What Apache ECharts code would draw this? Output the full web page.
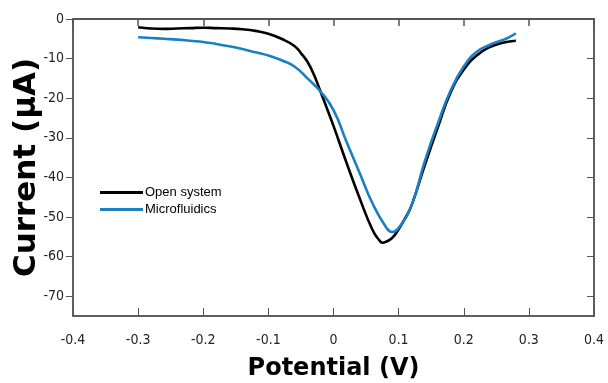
<!DOCTYPE html>
<html>
<head>
<meta charset="utf-8">
<script src="https://cdn.jsdelivr.net/npm/echarts@6/dist/echarts.min.js"></script>
<style>html,body{margin:0;padding:0;background:#fff}#c{width:608px;height:383px}</style>
</head>
<body>
<div id="c"></div>
<script>
var xTicks = [-0.4, -0.3, -0.2, -0.1, 0, 0.1, 0.2, 0.3, 0.4];
var yTicks = [0, -10, -20, -30, -40, -50, -60, -70];

var openPotential = [-0.30, -0.28, -0.26, -0.24, -0.22, -0.20, -0.18, -0.16, -0.14, -0.12, -0.10, -0.08, -0.06, -0.05, -0.04, -0.03, -0.02, -0.01, 0.00, 0.02, 0.04, 0.06, 0.07, 0.075, 0.08, 0.09, 0.10, 0.11, 0.12, 0.14, 0.16, 0.18, 0.20, 0.22, 0.24, 0.26, 0.28];
var openCurrent   = [-2.1, -2.4, -2.5, -2.4, -2.3, -2.2, -2.3, -2.4, -2.6, -3.0, -3.7, -5.0, -6.8, -8.6, -10.8, -14.1, -18.3, -22.6, -27.0, -36.3, -45.2, -53.3, -55.8, -56.5, -56.3, -55.3, -53.1, -50.3, -47.0, -37.0, -27.5, -18.5, -12.8, -9.2, -7.1, -6.0, -5.5];

var microPotential = [-0.30, -0.28, -0.26, -0.24, -0.22, -0.20, -0.18, -0.16, -0.14, -0.12, -0.10, -0.08, -0.06, -0.04, -0.02, 0.00, 0.02, 0.04, 0.06, 0.08, 0.09, 0.10, 0.12, 0.14, 0.16, 0.18, 0.20, 0.22, 0.24, 0.26, 0.27, 0.28];
var microCurrent   = [-4.6, -4.8, -5.0, -5.2, -5.5, -5.8, -6.3, -6.9, -7.6, -8.4, -9.2, -10.4, -12.0, -15.0, -18.3, -23.0, -31.0, -38.8, -46.6, -52.4, -53.8, -52.8, -47.0, -36.0, -26.5, -18.0, -12.0, -8.3, -6.5, -5.3, -4.6, -3.6];

var seriesNames = ['Open system', 'Microfluidics'];

function pairs(xs, ys) { return xs.map(function (x, i) { return [x, ys[i]]; }); }

var axisColor = '#555';
var labelFont = { fontFamily: 'DejaVu Sans Condensed', fontSize: 14, color: '#222' };
var chart = echarts.init(document.getElementById('c'), null, { renderer: 'canvas' });
chart.setOption({
  animation: false,
  backgroundColor: '#fff',
  grid: { left: 73, right: 14, top: 19, bottom: 67, containLabel: false, outerBoundsMode: 'none',
          show: true, borderColor: axisColor, borderWidth: 1.5, backgroundColor: 'transparent' },
  legend: {
    orient: 'vertical', left: 95, top: 181, itemGap: 4,
    itemWidth: 43, itemHeight: 3, icon: 'rect',
    textStyle: { color: '#000', fontFamily: 'Liberation Sans', fontSize: 13, padding: [0, 0, 0, -3] },
    data: seriesNames
  },
  xAxis: [{
    type: 'value', min: -0.4, max: 0.4, position: 'bottom',
    name: 'Potential (V)', nameLocation: 'middle', nameGap: 41,
    nameTextStyle: { fontFamily: 'DejaVu Sans', fontWeight: 'bold', fontSize: 24, color: '#000' },
    axisLine: { onZero: false, lineStyle: { color: axisColor, width: 1.5 } },
    axisTick: { inside: true, length: 8, customValues: xTicks, lineStyle: { color: axisColor } },
    axisLabel: Object.assign({ customValues: xTicks, margin: 17,
      formatter: function (v) { return String(Math.round(v * 10) / 10); } }, labelFont),
    splitLine: { show: false }
  }, {
    type: 'value', min: -0.4, max: 0.4, interval: 0.1, position: 'top', offset: 0,
    axisLine: { show: true, onZero: false, lineStyle: { color: axisColor, width: 2 } },
    axisTick: { show: true, inside: true, length: 7, lineStyle: { color: axisColor, width: 1.5 } },
    axisLabel: { show: false }, splitLine: { show: false }
  }],
  yAxis: [{
    type: 'value', min: -75, max: 0, position: 'left',
    name: 'Current (\u03bcA)', nameLocation: 'middle', nameGap: 31, nameRotate: 90, nameMoveOverlap: false,
    nameTextStyle: { fontFamily: 'DejaVu Sans', fontWeight: 'bold', fontSize: 31, color: '#000' },
    axisLine: { onZero: false, lineStyle: { color: axisColor, width: 1.5 } },
    axisTick: { inside: false, length: 7, customValues: yTicks, lineStyle: { color: axisColor } },
    axisLabel: Object.assign({ customValues: yTicks, margin: 9 }, labelFont),
    splitLine: { show: false }
  }, {
    type: 'value', min: -75, max: 0, position: 'right',
    axisLine: { show: true, onZero: false, lineStyle: { color: axisColor, width: 1.5 } },
    axisTick: { show: true, inside: true, length: 7, customValues: yTicks, lineStyle: { color: axisColor } },
    axisLabel: { show: false }, splitLine: { show: false }
  }],
  series: [{
    name: seriesNames[0], type: 'line', smooth: 0.5, showSymbol: false,
    xAxisIndex: 0, yAxisIndex: 0,
    lineStyle: { color: '#000', width: 2.6 }, itemStyle: { color: '#000' },
    data: pairs(openPotential, openCurrent), z: 2
  }, {
    name: seriesNames[1], type: 'line', smooth: 0.5, showSymbol: false,
    xAxisIndex: 0, yAxisIndex: 0,
    lineStyle: { color: '#1a7fc3', width: 2.6 }, itemStyle: { color: '#1a7fc3' },
    data: pairs(microPotential, microCurrent), z: 3
  }, {
    name: 'frame', type: 'line', showSymbol: false, silent: true,
    xAxisIndex: 1, yAxisIndex: 1,
    lineStyle: { opacity: 0 }, itemStyle: { opacity: 0 },
    data: pairs(openPotential, openCurrent), z: 0
  }]
});
</script>
</body>
</html>
